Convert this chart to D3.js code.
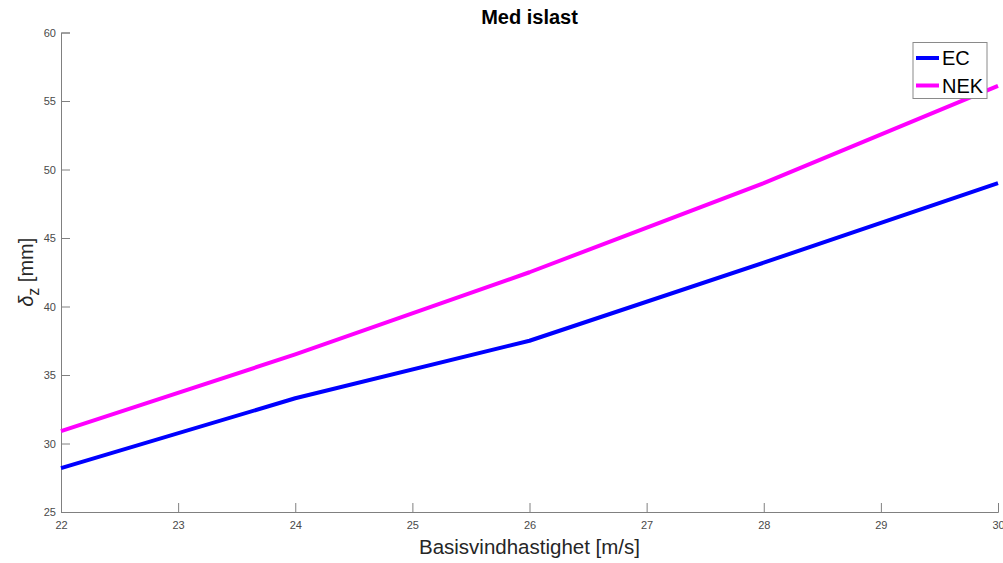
<!DOCTYPE html>
<html>
<head>
<meta charset="utf-8">
<script src="https://cdn.jsdelivr.net/npm/d3@7"></script>
<style>
  html, body { margin: 0; padding: 0; background: #fff; }
  svg { display: block; font-family: "Liberation Sans", Arial, sans-serif; }
</style>
</head>
<body>
<svg id="chart" width="1003" height="563"></svg>
<script>
// Wind speed (m/s) and vertical deflection (mm) for the two standards
const windSpeed = [22, 24, 26, 28, 30];
const ecValues  = [28.2, 33.3, 37.5, 43.2, 49.0];
const nekValues = [30.9, 36.5, 42.5, 49.0, 56.1];
const seriesNames = ["EC", "NEK"];
const seriesColors = ["#0000ff", "#ff00ff"];
const xTicks = [22, 23, 24, 25, 26, 27, 28, 29, 30];
const yTicks = [25, 30, 35, 40, 45, 50, 55, 60];

const svg = d3.select("#chart");
const margin = { left: 61, right: 1003 - 998, top: 32.5, bottom: 563 - 512 };
const W = 1003, H = 563;

const x = d3.scaleLinear().domain([22, 30]).range([margin.left, W - margin.right]);
const y = d3.scaleLinear().domain([25, 60]).range([H - margin.bottom, margin.top]);

const axisColor = "#808080";
const textColor = "#4a4a4a";

// X axis (ticks point inward)
const gx = svg.append("g")
  .attr("transform", `translate(0,${y(25)})`)
  .call(d3.axisBottom(x).tickValues(xTicks).tickSize(-9).tickPadding(13).tickFormat(d3.format("d")));
// Y axis
const gy = svg.append("g")
  .attr("transform", `translate(${x(22)},0)`)
  .call(d3.axisLeft(y).tickValues(yTicks).tickSize(-9).tickPadding(5).tickFormat(d3.format("d")));

[gx, gy].forEach(g => {
  g.select(".domain").attr("stroke", axisColor).attr("stroke-width", 1);
  g.selectAll(".tick line").attr("stroke", axisColor);
  g.selectAll(".tick text").attr("fill", textColor)
    .style("font-family", "'Liberation Sans', Arial, sans-serif").style("font-size", "11px");
});
gx.selectAll(".tick text").attr("dy", "0.4em");

// Lines
const line = d3.line().x((d, i) => x(windSpeed[i])).y(d => y(d));
[ecValues, nekValues].forEach((vals, i) => {
  svg.append("path")
    .datum(vals)
    .attr("d", line)
    .attr("fill", "none")
    .attr("stroke", seriesColors[i])
    .attr("stroke-width", 4)
    .attr("stroke-linejoin", "round");
});

// Title
svg.append("text")
  .attr("x", (x(22) + x(30)) / 2).attr("y", 24)
  .attr("text-anchor", "middle")
  .style("font-size", "20px").style("font-weight", "bold")
  .attr("fill", "#000")
  .text("Med islast");

// X label
svg.append("text")
  .attr("x", (x(22) + x(30)) / 2).attr("y", 554)
  .attr("text-anchor", "middle")
  .style("font-size", "20.5px")
  .attr("fill", "#262626")
  .text("Basisvindhastighet [m/s]");

// Y label: δ_z [mm]
const yl = svg.append("text")
  .attr("transform", `translate(33,${(y(25) + y(60)) / 2}) rotate(-90)`)
  .attr("text-anchor", "middle")
  .style("font-size", "20px")
  .attr("fill", "#262626");
yl.append("tspan").style("font-style", "italic").text("δ");
yl.append("tspan").attr("dy", 6).style("font-size", "16px").text("z");
yl.append("tspan").attr("dy", -6).text(" [mm]");

// Legend
const lg = svg.append("g");
lg.append("rect")
  .attr("x", 913).attr("y", 42.5).attr("width", 74).attr("height", 56)
  .attr("fill", "#fff").attr("stroke", "#8a8a8a").attr("stroke-width", 1);
seriesNames.forEach((name, i) => {
  const cy = 58 + i * 27.5;
  lg.append("line")
    .attr("x1", 916).attr("x2", 939).attr("y1", cy).attr("y2", cy)
    .attr("stroke", seriesColors[i]).attr("stroke-width", 4);
  lg.append("text")
    .attr("x", 942).attr("y", cy + 7)
    .style("font-size", "20px").attr("fill", "#000")
    .text(name);
});
</script>
</body>
</html>
